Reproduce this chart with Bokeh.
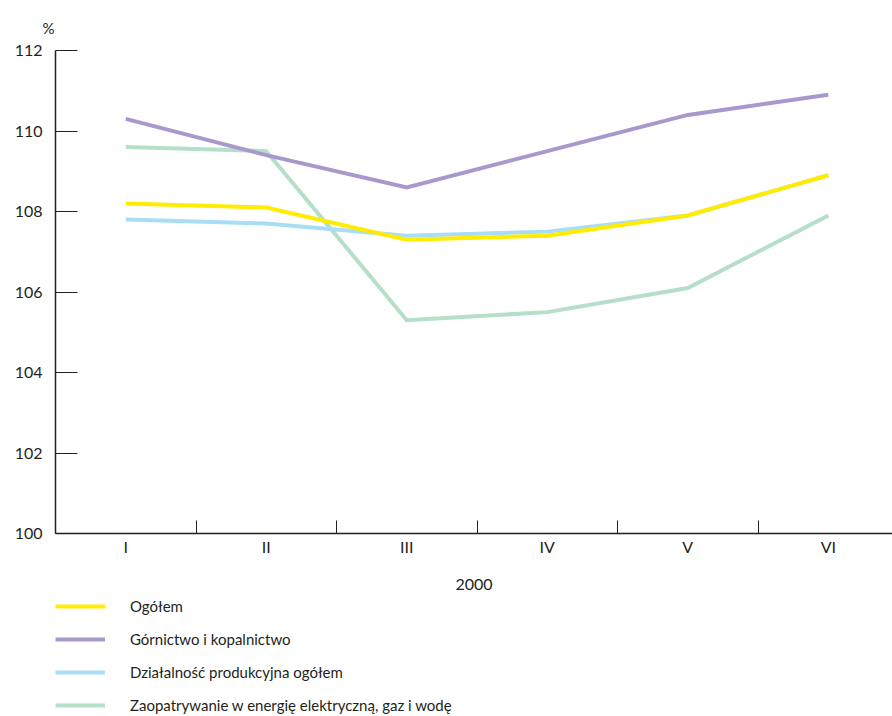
from bokeh.plotting import figure
from bokeh.layouts import column
from bokeh.models import FixedTicker, Range1d, Legend, LegendItem, Title
from bokeh.embed import file_html
from bokeh.resources import INLINE

months = ["I", "II", "III", "IV", "V", "VI"]
year_label = "2000"
ogolem = [108.2, 108.1, 107.3, 107.4, 107.9, 108.9]
gornictwo = [110.3, 109.4, 108.6, 109.5, 110.4, 110.9]
dzialalnosc = [107.8, 107.7, 107.4, 107.5, 107.9, 108.9]
zaopatrywanie = [109.6, 109.5, 105.3, 105.5, 106.1, 107.9]
y_ticks = [100, 102, 104, 106, 108, 110, 112]

names = ["Ogółem", "Górnictwo i kopalnictwo", "Działalność produkcyjna ogółem",
         "Zaopatrywanie w energię elektryczną, gaz i wodę"]
colors = ["#FFEC00", "#A998CB", "#A9DDF6", "#B5DFC9"]

FONT = "Lato"
TXT = "#231F20"

xs = list(range(len(months)))

p = figure(width=892, height=595, output_backend="svg", toolbar_location=None,
           x_range=Range1d(-0.5, 5.457), y_range=Range1d(100, 112),
           min_border_left=52, min_border_right=0, min_border_top=50, min_border_bottom=62)
p.outline_line_color = None
p.grid.grid_line_color = None
p.background_fill_color = "white"
p.border_fill_color = "white"

p.title = Title(text="%", align="left", offset=-13, standoff=27,
                text_font=FONT, text_font_size="15px", text_font_style="normal",
                text_color=TXT)

# axes
xa = p.xaxis[0]
xa.ticker = FixedTicker(ticks=xs, minor_ticks=[i + 0.5 for i in xs[:-1]])
xa.major_label_overrides = {i: m for i, m in enumerate(months)}
xa.major_tick_in = 0
xa.major_tick_out = 0
xa.minor_tick_in = 13
xa.minor_tick_out = 0
xa.minor_tick_line_color = TXT
xa.minor_tick_line_width = 1
xa.axis_line_color = TXT
xa.axis_line_width = 1.5
xa.major_label_text_font = FONT
xa.major_label_text_font_size = "16px"
xa.major_label_text_color = TXT
xa.major_label_standoff = 3
xa.axis_label = year_label
xa.axis_label_text_font = FONT
xa.axis_label_text_font_size = "16px"
xa.axis_label_text_font_style = "normal"
xa.axis_label_text_color = TXT
xa.axis_label_standoff = 20

ya = p.yaxis[0]
ya.ticker = FixedTicker(ticks=y_ticks, minor_ticks=[])
ya.major_tick_in = 22
ya.major_tick_out = 0
ya.major_tick_line_color = TXT
ya.major_tick_line_width = 1
ya.axis_line_color = TXT
ya.axis_line_width = 1.5
ya.major_label_text_font = FONT
ya.major_label_text_font_size = "16px"
ya.major_label_text_color = TXT
ya.major_label_standoff = 13

# lines (drawing order: green, blue, purple, yellow)
series = [ogolem, gornictwo, dzialalnosc, zaopatrywanie]
for idx in [3, 2, 1, 0]:
    p.line(xs, series[idx], line_color=colors[idx], line_width=4,
           line_join="miter", line_cap="butt")

# legend figure below the chart (its lines fall outside its ranges; only legend glyphs show)
q = figure(width=892, height=121, output_backend="svg", toolbar_location=None,
           x_axis_location=None, y_axis_location=None,
           x_range=Range1d(0, 1), y_range=Range1d(0, 1),
           min_border_left=55, min_border_right=0, min_border_top=1, min_border_bottom=0)
q.outline_line_color = None
q.grid.grid_line_color = None
q.border_fill_color = "white"

items = []
for i in range(4):
    r = q.line(xs, series[i], line_color=colors[i], line_width=4)
    items.append(LegendItem(label=names[i], renderers=[r]))
legend = Legend(items=items, orientation="vertical", location="top_left",
                glyph_width=50, glyph_height=20, label_height=20, spacing=13,
                label_standoff=25, padding=0, margin=0,
                border_line_color=None, background_fill_alpha=0,
                label_text_font=FONT, label_text_font_size="15px",
                label_text_color=TXT)
q.add_layout(legend)

layout = column(p, q, spacing=0)
open("out.html", "w").write(file_html(layout, INLINE))
